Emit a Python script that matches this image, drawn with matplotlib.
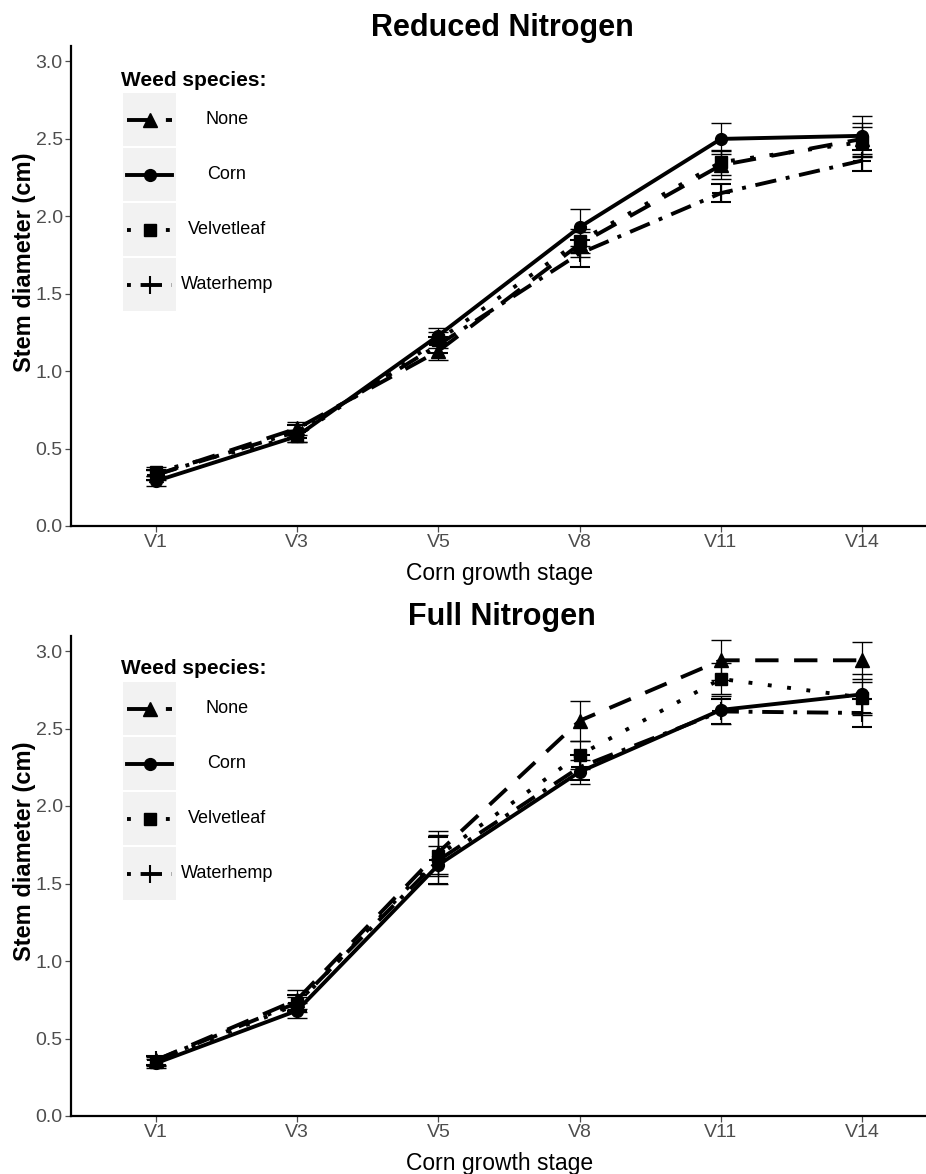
import matplotlib
matplotlib.use("Agg")
import matplotlib.pyplot as plt
from matplotlib.lines import Line2D
from matplotlib.patches import Rectangle

plt.rcParams['font.family'] = ['Liberation Sans', 'DejaVu Sans']

# ---------------- data ----------------
stages = ["V1", "V3", "V5", "V8", "V11", "V14"]
species = ["None", "Corn", "Velvetleaf", "Waterhemp"]

reduced_none = [0.33, 0.63, 1.13, 1.82, 2.33, 2.50]
reduced_corn = [0.29, 0.58, 1.23, 1.93, 2.50, 2.52]
reduced_velvetleaf = [0.35, 0.58, 1.20, 1.84, 2.35, 2.48]
reduced_waterhemp = [0.33, 0.61, 1.17, 1.76, 2.15, 2.36]
reduced_none_se = [0.03, 0.04, 0.06, 0.08, 0.09, 0.10]
reduced_corn_se = [0.03, 0.04, 0.05, 0.12, 0.10, 0.13]
reduced_velvetleaf_se = [0.03, 0.04, 0.05, 0.08, 0.08, 0.10]
reduced_waterhemp_se = [0.03, 0.04, 0.05, 0.09, 0.06, 0.07]

full_none = [0.36, 0.75, 1.70, 2.55, 2.94, 2.94]
full_corn = [0.34, 0.68, 1.62, 2.22, 2.62, 2.72]
full_velvetleaf = [0.35, 0.72, 1.68, 2.33, 2.82, 2.70]
full_waterhemp = [0.36, 0.73, 1.65, 2.25, 2.61, 2.60]
full_none_se = [0.03, 0.06, 0.14, 0.13, 0.13, 0.12]
full_corn_se = [0.03, 0.05, 0.12, 0.08, 0.09, 0.13]
full_velvetleaf_se = [0.03, 0.05, 0.13, 0.09, 0.10, 0.10]
full_waterhemp_se = [0.03, 0.05, 0.15, 0.08, 0.08, 0.09]

# ---------------- style ----------------
W, H = 926, 1174
LW = 2.8
styles = {
    "None": dict(ls=(0, (6, 4)), key_ls=(0, (6, 4)), marker="^", ms=10, mew=1),
    "Corn": dict(ls="-", key_ls="-", marker="o", ms=8.5, mew=1),
    "Velvetleaf": dict(ls=(0, (1, 4)), key_ls=(0, (1, 4)), marker="s", ms=8, mew=1),
    "Waterhemp": dict(ls=(0, (5.5, 2.5, 1, 2.5)), key_ls=(8, (5.5, 2.5, 1, 2.5)),
                      marker="+", ms=13, mew=1.5),
}

panels = [
    ("Reduced Nitrogen",
     [reduced_none, reduced_corn, reduced_velvetleaf, reduced_waterhemp],
     [reduced_none_se, reduced_corn_se, reduced_velvetleaf_se, reduced_waterhemp_se],
     46, 526, 0),
    ("Full Nitrogen",
     [full_none, full_corn, full_velvetleaf, full_waterhemp],
     [full_none_se, full_corn_se, full_velvetleaf_se, full_waterhemp_se],
     635.5, 1116, 589),
]

fig = plt.figure(figsize=(W / 100, H / 100), dpi=100)


def fx(px):
    return px / W


def fy(py):
    return 1 - py / H


x_pos = list(range(1, len(stages) + 1))
grey30 = "#4D4D4D"

for title, means, ses, top_px, bot_px, off in panels:
    left_px, right_px = 71, 947
    ax = fig.add_axes([fx(left_px), fy(bot_px), (right_px - left_px) / W, (bot_px - top_px) / H])
    for sp, m, se in zip(species, means, ses):
        st = styles[sp]
        eb = ax.errorbar(x_pos, m, yerr=se, color="black", lw=LW,
                         marker=st["marker"], ms=st["ms"], mew=st["mew"],
                         ecolor="black", elinewidth=0.9, capsize=7.5, capthick=0.9,
                         zorder=3)
        line = eb[0]
        line.set_linestyle(st["ls"])
        line.set_dash_capstyle("butt")
    ax.set_xlim(0.4, 6.6)
    ax.set_ylim(0, 3.1)
    ax.set_xticks(x_pos)
    ax.set_xticklabels(stages)
    ax.set_yticks([0, 0.5, 1.0, 1.5, 2.0, 2.5, 3.0])
    ax.set_yticklabels(["0.0", "0.5", "1.0", "1.5", "2.0", "2.5", "3.0"])
    ax.tick_params(axis="both", labelsize=14, colors=grey30, length=4, width=0.9,
                   labelcolor=grey30, pad=2)
    for s in ["top", "right"]:
        ax.spines[s].set_visible(False)
    for s in ["left", "bottom"]:
        ax.spines[s].set_linewidth(1.6)
        ax.spines[s].set_color("black")
    ax.set_xlabel("Corn growth stage", fontsize=16.5, color="black", labelpad=2)
    ax.xaxis.set_label_coords(((500 - left_px) / (right_px - left_px)), -0.075)
    # title & y label
    fig.text(fx(502), fy(28 + off), title, fontsize=22, fontweight="bold",
             ha="center", va="center")
    fig.text(fx(25), fy(262 + off), "Stem diameter (cm)", fontsize=17,
             fontweight="bold", rotation=90, ha="center", va="center")

    # legend (drawn manually, ggplot style)
    fig.text(fx(121), fy(80 + off), "Weed species:", fontsize=15,
             fontweight="bold", ha="left", va="center")
    for i, sp in enumerate(species):
        top = 93 + i * 55 + off
        fig.add_artist(Rectangle((fx(123), fy(top + 53)), 53 / W, 53 / H,
                                 transform=fig.transFigure, facecolor="#F2F2F2",
                                 edgecolor="none", zorder=1))
        cy = top + 26.5
        st = styles[sp]
        ln = Line2D([fx(127), fx(172)], [fy(cy), fy(cy)], transform=fig.transFigure,
                    color="black", lw=LW, zorder=2, linestyle=st["key_ls"])
        ln.set_dash_capstyle("butt")
        fig.add_artist(ln)
        mk = Line2D([fx(149.5)], [fy(cy)], transform=fig.transFigure, color="black",
                    marker=st["marker"], ms=st["ms"], mew=st["mew"], ls="none", zorder=3)
        fig.add_artist(mk)
        fig.text(fx(227), fy(cy), sp, fontsize=13, ha="center", va="center",
                 color="black")

fig.savefig("out.png", dpi=100)
